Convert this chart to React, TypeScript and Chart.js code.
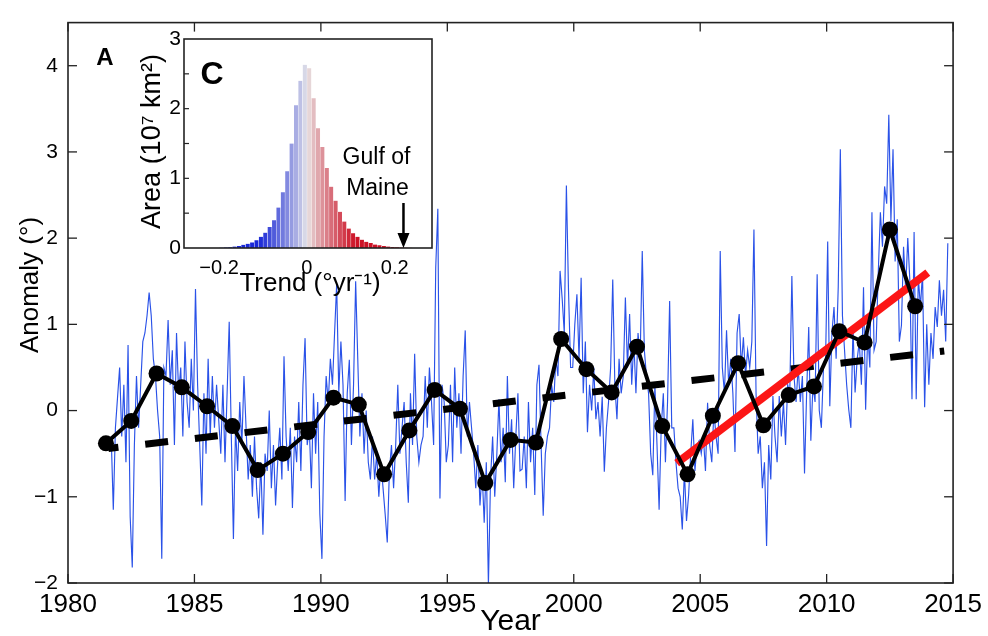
import React, { useEffect, useRef } from 'react';
import { Chart, registerables } from 'chart.js';

Chart.register(...registerables);

// ---------------- DATA ----------------
// Monthly Gulf of Maine SST anomaly (°), starting September 1981, one row per year
const monthlyStartYear = 1981;
const monthlyStartMonth = 9;
const monthlyAnomaly: number[] = [
  /* 1981 */ -0.3, -1.15, -0.2, 0.15,
  /* 1982 */ 0.5, -0.3, 0.3, -0.6, 0.76, -1.23, -1.82, -0.4, 0.4, -0.2, 0.3, 0.8,
  /* 1983 */ 0.9, 1.1, 1.37, 1.1, 0.6, 0.4, 0.0, -0.3, -1.72, 0.5, 0.4, 1.05,
  /* 1984 */ 0.3, 0.7, -0.4, 0.9, 0.2, 0.5, -0.3, 0.8, 0.1, -0.2, 0.6, 0.0,
  /* 1985 */ 1.41, 0.3, -0.4, -1.1, 0.2, -0.5, 0.6, -0.3, 0.4, -0.2, 0.3, -0.1,
  /* 1986 */ -0.5, 0.3, -0.6, 0.2, 1.03, -0.3, -1.49, -0.2, -0.7, 0.1, -0.4, 0.4,
  /* 1987 */ -0.2, -0.8, -0.4, -1.0, -0.3, -0.9, -1.25, -0.6, -1.44, -0.5, -0.7, 0.0,
  /* 1988 */ -0.9, -0.4, -1.1, -0.6, -0.2, -0.8, 0.63, -0.3, -0.7, -0.2, -1.13, -0.3,
  /* 1989 */ -0.6, 0.1, -0.7, 0.3, 0.84, -0.4, -0.2, -0.9, 0.2, -0.5, 0.1, -1.2,
  /* 1990 */ -1.72, -0.3, 0.4, 0.1, 0.6, 0.3, 0.9, 1.47, 0.2, 0.8, 0.3, -1.05,
  /* 1991 */ 0.2, 0.59, -0.4, 0.3, 1.5, 0.6, -0.3, 0.2, -0.5, 0.0, -0.6, -0.8,
  /* 1992 */ -0.3, -0.8, -0.5, -1.0, -0.6, -0.9, -1.2, -1.53, -0.7, -0.4, -0.9, -0.4,
  /* 1993 */ 0.3, -0.5, -0.2, 0.1, -0.6, -1.07, 0.2, -0.4, 0.66, -0.3, -0.6, -0.4,
  /* 1994 */ -0.3, 0.4, -0.2, 0.5, 0.1, -0.4, 1.66, 2.34, -1.02, 0.3, 0.1, -0.6,
  /* 1995 */ -0.4, 0.3, -0.6, 0.5, -0.2, 0.2, -0.5, 0.4, 0.93, -0.3, 0.1, -0.2,
  /* 1996 */ -0.5, -0.9, -0.4, -1.1, -0.7, -1.3, -0.6, -2.03, -0.8, -0.3, -1.0, -0.5,
  /* 1997 */ 0.13, -0.6, -0.2, -0.83, 0.4, -0.5, -0.1, -0.9, -0.3, 0.2, -0.7, -0.68,
  /* 1998 */ -0.3, -0.9, 0.1, -0.6, -0.2, -0.98, 0.3, 0.53, -0.4, -1.22, -0.5, -0.3,
  /* 1999 */ -0.2, 0.3, 0.1, 0.6, 0.4, 1.62, 1.3, 0.9, 2.61, 1.4, 0.5, 0.5,
  /* 2000 */ 1.0, 1.35, 0.6, 1.54, 0.2, 0.8, -0.25, 0.3, 0.0, 0.5, -0.1, 0.1,
  /* 2001 */ -0.3, 0.16, -0.71, -0.2, 0.1, 0.5, 1.52, 0.3, -0.1, 0.6, 0.2, 0.4,
  /* 2002 */ 1.31, 0.5, 1.12, 0.3, 0.8, 0.2, 0.9, 0.6, 1.85, 0.7, 0.4, 0.2,
  /* 2003 */ -0.5, -0.75, 0.3, -0.4, -1.15, -0.2, 0.2, -0.6, 0.1, 1.27, -0.2, -0.2,
  /* 2004 */ -0.6, -0.9, -1.0, -1.38, -0.7, -1.28, -0.98, -0.5, -0.1, -0.7, -0.4, -0.35,
  /* 2005 */ -0.5, -0.3, -0.7, 0.09, -0.4, -0.6, 0.0, -0.3, -0.5, 1.85, 0.5, 0.2,
  /* 2006 */ 0.93, 0.3, 0.6, 0.2, -0.48, 0.9, 1.12, 0.5, 0.85, 0.4, 0.7, 0.5,
  /* 2007 */ 0.8, 2.1, 0.2, -0.5, -0.3, -0.9, -0.6, -1.57, -0.4, -0.8, 0.17, -0.3,
  /* 2008 */ -0.6, 0.17, -0.3, 0.1, -0.4, 0.3, 0.2, 1.56, 0.4, 0.1, 0.5, 0.1,
  /* 2009 */ 0.4, -0.73, 0.2, 0.97, -0.35, 0.3, 0.1, 1.58, 0.0, -0.2, 0.5, 0.6,
  /* 2010 */ 1.96, 0.05, 0.9, 1.2, 0.6, 1.43, 3.03, 1.1, 0.7, 0.3, 0.01, -0.2,
  /* 2011 */ 0.97, 0.21, 0.6, 0.8, 0.3, 1.43, 0.01, 0.9, 0.5, 2.3, 0.7, 0.8,
  /* 2012 */ 1.6, 2.3, 1.9, 2.6, 2.4, 3.43, 2.2, 3.03, 1.73, 2.22, 0.8, 0.99,
  /* 2013 */ 1.9, 1.4, 2.0, 1.5, 0.13, 2.07, 0.13, 1.55, 1.2, 1.6, 0.04, 1.0,
  /* 2014 */ 0.3, 0.9, 0.6, 1.2, 0.97, 1.51, 1.1, 1.4, 0.8, 1.94,
];

// Annual means (plotted at mid-year)
const annualYears = [
  1981, 1982, 1983, 1984, 1985, 1986, 1987, 1988, 1989, 1990, 1991,
  1992, 1993, 1994, 1995, 1996, 1997, 1998, 1999, 2000, 2001, 2002,
  2003, 2004, 2005, 2006, 2007, 2008, 2009, 2010, 2011, 2012, 2013,
];
const annualAnomaly = [
  -0.38, -0.12, 0.43, 0.27, 0.05, -0.18, -0.69, -0.5, -0.25, 0.15, 0.07,
  -0.74, -0.23, 0.24, 0.02, -0.84, -0.34, -0.37, 0.83, 0.48, 0.21, 0.74,
  -0.18, -0.74, -0.06, 0.55, -0.17, 0.18, 0.28, 0.92, 0.79, 2.1, 1.21,
];

// Long-term trend (dashed black) and recent trend (red)
const longTrendYears = [1981.6, 2014.65];
const longTrendValues = [-0.44, 0.69];
const recentTrendYears = [2004.07, 2014.0];
const recentTrendValues = [-0.61, 1.6];

// Axis ticks
const xTickYears = [1980, 1985, 1990, 1995, 2000, 2005, 2010, 2015];
const yTickValues = [-2, -1, 0, 1, 2, 3, 4];

// Inset C: histogram of SST trends (°/yr) by area (10^7 km^2)
const histBinCenters = [
  -0.195, -0.185, -0.175, -0.165, -0.155, -0.145, -0.135, -0.125, -0.115, -0.105,
  -0.095, -0.085, -0.075, -0.065, -0.055, -0.045, -0.035, -0.025, -0.015, -0.005,
  0.005, 0.015, 0.025, 0.035, 0.045, 0.055, 0.065, 0.075, 0.085, 0.095,
  0.105, 0.115, 0.125, 0.135, 0.145, 0.155, 0.165, 0.175, 0.185, 0.195,
  0.205, 0.215, 0.225, 0.235,
];
const histArea = [
  0.005, 0.008, 0.012, 0.02, 0.03, 0.045, 0.06, 0.08, 0.11, 0.16,
  0.22, 0.3, 0.4, 0.58, 0.8, 1.1, 1.5, 2.05, 2.4, 2.63,
  2.58, 2.15, 1.72, 1.45, 1.15, 0.88, 0.68, 0.52, 0.38, 0.28,
  0.21, 0.16, 0.12, 0.09, 0.07, 0.05, 0.04, 0.03, 0.02, 0.015,
  0.01, 0.007, 0.005, 0.003,
];
const insetXTicks = [-0.2, 0, 0.2];
const insetYMinorTicks = [0.5, 1, 1.5, 2, 2.5];
const gulfOfMaineTrend = 0.22;

// ---------------- STYLE HELPERS ----------------
const NARROW = '"Liberation Sans Narrow", "Liberation Sans", Arial, sans-serif';
const REGULAR = '"Liberation Sans", Arial, sans-serif';

function fmtNum(v: number): string {
  if (Math.abs(v) < 1e-9) return '0';
  const s = String(Math.round(Math.abs(v) * 100) / 100);
  return v < 0 ? '\u2212' + s : s;
}

function trendColor(t: number): string {
  const s = Math.max(-1, Math.min(1, t / 0.11));
  const base = 232;
  let r: number, g: number, b: number;
  const k = Math.pow(Math.abs(s), 0.8);
  if (s < 0) {
    r = base + (25 - base) * k;
    g = base + (40 - base) * k;
    b = base + (215 - base) * k;
  } else {
    r = base + (205 - base) * k;
    g = base + (18 - base) * k;
    b = base + (38 - base) * k;
  }
  return `rgb(${Math.round(r)},${Math.round(g)},${Math.round(b)})`;
}

function line(ctx: CanvasRenderingContext2D, x1: number, y1: number, x2: number, y2: number) {
  ctx.beginPath();
  ctx.moveTo(x1, y1);
  ctx.lineTo(x2, y2);
  ctx.stroke();
}

const mainFrame = {
  id: 'mainFrame',
  afterDatasetsDraw(chart: any) {
    const { ctx, chartArea: a, scales } = chart;
    const xs = scales.x;
    const ys = scales.y;
    ctx.save();
    ctx.strokeStyle = '#222';
    ctx.lineWidth = 1.6;
    ctx.strokeRect(a.left, a.top, a.right - a.left, a.bottom - a.top);
    ctx.lineWidth = 1.3;
    xTickYears.forEach((v) => {
      const px = xs.getPixelForValue(v);
      line(ctx, px, a.bottom, px, a.bottom - 9);
      line(ctx, px, a.top, px, a.top + 9);
    });
    yTickValues.forEach((v) => {
      const py = ys.getPixelForValue(v);
      line(ctx, a.left, py, a.left + 9, py);
      line(ctx, a.right, py, a.right - 9, py);
    });
    ctx.fillStyle = '#000';
    ctx.textAlign = 'center';
    ctx.textBaseline = 'middle';
    ctx.font = `bold 24px ${REGULAR}`;
    ctx.fillText('A', 105, 58);
    ctx.font = `30px ${NARROW}`;
    ctx.fillText('Year', (a.left + a.right) / 2, 622);
    ctx.translate(31, 285);
    ctx.rotate(-Math.PI / 2);
    ctx.font = `26px ${REGULAR}`;
    ctx.fillText('Anomaly (°)', 0, 0);
    ctx.restore();
  },
};

const insetFrame = {
  id: 'insetFrame',
  beforeDraw(chart: any) {
    const { ctx, chartArea: a } = chart;
    ctx.save();
    ctx.fillStyle = '#fff';
    ctx.fillRect(a.left, a.top, a.right - a.left, a.bottom - a.top);
    ctx.restore();
  },
  afterDraw(chart: any) {
    const { ctx, chartArea: a, scales } = chart;
    const xs = scales.x;
    const ys = scales.y;
    ctx.save();
    ctx.strokeStyle = '#222';
    ctx.lineWidth = 1.6;
    ctx.strokeRect(a.left, a.top, a.right - a.left, a.bottom - a.top);
    ctx.lineWidth = 1.2;
    insetYMinorTicks.forEach((v) => {
      const py = ys.getPixelForValue(v);
      line(ctx, a.left, py, a.left + 5, py);
    });
    // arrow marking the Gulf of Maine trend
    const ax = xs.getPixelForValue(gulfOfMaineTrend);
    ctx.strokeStyle = '#000';
    ctx.fillStyle = '#000';
    ctx.lineWidth = 2.5;
    line(ctx, ax, a.bottom - 45, ax, a.bottom - 12);
    ctx.beginPath();
    ctx.moveTo(ax - 6, a.bottom - 15);
    ctx.lineTo(ax + 6, a.bottom - 15);
    ctx.lineTo(ax, a.bottom);
    ctx.closePath();
    ctx.fill();
    ctx.textAlign = 'center';
    ctx.textBaseline = 'middle';
    ctx.font = `23px ${NARROW}`;
    ctx.fillText('Gulf of', ax - 27, a.top + 119);
    ctx.fillText('Maine', ax - 26, a.top + 150);
    ctx.font = `bold 32px ${NARROW}`;
    ctx.fillText('C', a.left + 28, a.top + 36);
    // x tick labels
    ctx.font = `20px ${NARROW}`;
    insetXTicks.forEach((v) => {
      ctx.fillText(fmtNum(v), xs.getPixelForValue(v), a.bottom + 20);
    });
    ctx.font = `26px ${NARROW}`;
    ctx.fillText('Trend (°yr\u207B\u00B9)', (a.left + a.right) / 2 + 2, a.bottom + 36);
    ctx.translate(a.left - 31, (a.top + a.bottom) / 2 - 2);
    ctx.rotate(-Math.PI / 2);
    ctx.font = `27px ${REGULAR}`;
    ctx.fillText('Area (10\u2077 km\u00B2)', 0, 0);
    ctx.restore();
  },
};

export default function App() {
  const mainRef = useRef<HTMLCanvasElement>(null);
  const insetRef = useRef<HTMLCanvasElement>(null);

  useEffect(() => {
    const monthlyPoints = monthlyAnomaly.map((v, i) => ({
      x: monthlyStartYear + (monthlyStartMonth - 1 + i + 0.5) / 12,
      y: v,
    }));
    const annualPoints = annualYears.map((yr, i) => ({ x: yr + 0.5, y: annualAnomaly[i] }));
    const longPoints = longTrendYears.map((yr, i) => ({ x: yr, y: longTrendValues[i] }));
    const recentPoints = recentTrendYears.map((yr, i) => ({ x: yr, y: recentTrendValues[i] }));

    const main = new Chart(mainRef.current as HTMLCanvasElement, {
      type: 'line',
      data: {
        datasets: [
          {
            label: 'Annual mean',
            data: annualPoints,
            borderColor: '#000',
            backgroundColor: '#000',
            borderWidth: 4,
            pointRadius: 8,
            pointBackgroundColor: '#000',
            pointBorderWidth: 0,
            tension: 0,
            order: 0,
          },
          {
            label: 'Recent trend',
            data: recentPoints,
            borderColor: 'rgb(252,22,22)',
            borderWidth: 8,
            pointRadius: 0,
            borderCapStyle: 'butt',
            order: 1,
          },
          {
            label: 'Long-term trend',
            data: longPoints,
            borderColor: '#000',
            borderWidth: 7,
            borderDash: [23, 27],
            borderDashOffset: 13,
            borderCapStyle: 'butt',
            pointRadius: 0,
            order: 2,
          },
          {
            label: 'Monthly',
            data: monthlyPoints,
            borderColor: 'rgb(42,82,232)',
            borderWidth: 1.15,
            pointRadius: 0,
            tension: 0,
            order: 3,
          },
        ],
      } as any,
      options: {
        animation: false,
        responsive: false,
        devicePixelRatio: 1,
        events: [],
        layout: { padding: { top: 15, right: 31, left: 0, bottom: 0 } },
        plugins: { legend: { display: false }, tooltip: { enabled: false } },
        scales: {
          x: {
            type: 'linear',
            min: 1980,
            max: 2015,
            grid: { display: false, drawTicks: false },
            border: { display: false },
            ticks: {
              stepSize: 5,
              autoSkip: false,
              maxRotation: 0,
              padding: 6,
              color: '#000',
              font: { family: NARROW, size: 26 },
              callback: (v: any) => String(v),
            },
            afterFit: (s: any) => {
              s.height = 53;
            },
          },
          y: {
            type: 'linear',
            min: -2,
            max: 4.5,
            grid: { display: false, drawTicks: false },
            border: { display: false },
            ticks: {
              stepSize: 1,
              autoSkip: false,
              padding: 10,
              color: '#000',
              font: { family: NARROW, size: 21 },
              callback: (v: any) => (Number.isInteger(v) ? fmtNum(v) : ''),
            },
            afterFit: (s: any) => {
              s.width = 68;
            },
          },
        },
      } as any,
      plugins: [mainFrame],
    });

    const inset = new Chart(insetRef.current as HTMLCanvasElement, {
      type: 'bar',
      data: {
        datasets: [
          {
            label: 'Area',
            data: histBinCenters.map((c, i) => ({ x: c, y: histArea[i] })),
            backgroundColor: histBinCenters.map((c) => trendColor(c)),
            borderColor: 'rgba(255,255,255,0.55)',
            borderWidth: { left: 0.6, right: 0, top: 0, bottom: 0 },
            barPercentage: 1,
            categoryPercentage: 1,
            grouped: false,
          },
        ],
      } as any,
      options: {
        animation: false,
        responsive: false,
        devicePixelRatio: 1,
        events: [],
        layout: { padding: { top: 19, right: 13, left: 0, bottom: 0 } },
        plugins: { legend: { display: false }, tooltip: { enabled: false } },
        scales: {
          x: {
            type: 'linear',
            min: -0.28,
            max: 0.285,
            offset: false,
            grid: { display: false, drawTicks: false, offset: false },
            border: { display: false },
            ticks: { display: false },
            afterFit: (s: any) => {
              s.height = 52;
            },
          },
          y: {
            type: 'linear',
            min: 0,
            max: 3,
            grid: { display: false, drawTicks: false },
            border: { display: false },
            ticks: {
              stepSize: 1,
              autoSkip: false,
              padding: 3,
              color: '#000',
              font: { family: NARROW, size: 21 },
              callback: (v: any) => (Number.isInteger(v) ? fmtNum(v) : ''),
            },
            afterFit: (s: any) => {
              s.width = 84;
            },
          },
        },
      } as any,
      plugins: [insetFrame],
    });

    return () => {
      main.destroy();
      inset.destroy();
    };
  }, []);

  return (
    <div style={{ position: 'absolute', left: 0, top: 0, width: 988, height: 636, background: '#fff' }}>
      <canvas ref={mainRef} width={988} height={636} style={{ position: 'absolute', left: 0, top: 0 }} />
      <canvas ref={insetRef} width={345} height={280} style={{ position: 'absolute', left: 100, top: 20 }} />
    </div>
  );
}
